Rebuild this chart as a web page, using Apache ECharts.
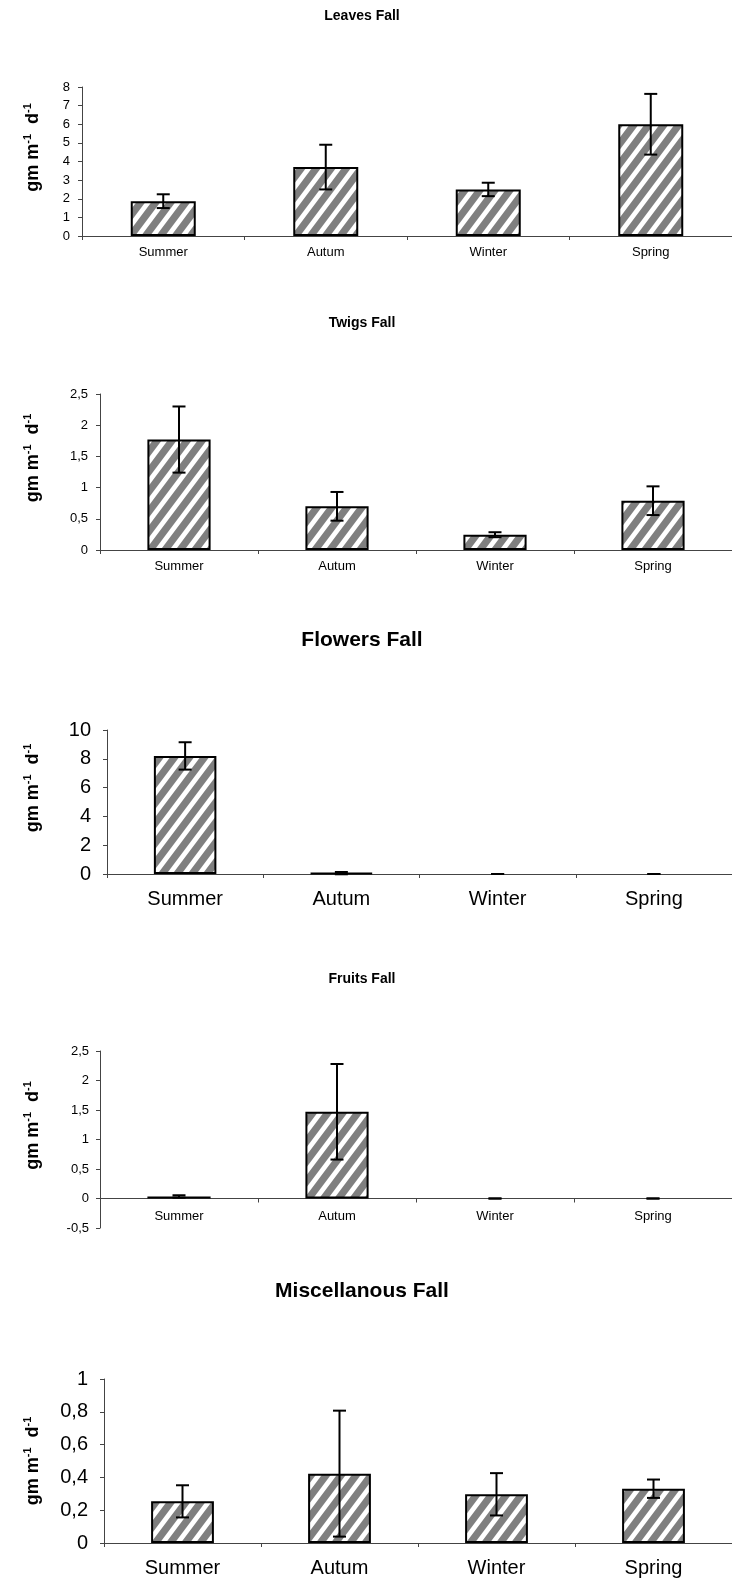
<!DOCTYPE html>
<html>
<head>
<meta charset="utf-8">
<script src="https://cdn.jsdelivr.net/npm/echarts@6/dist/echarts.min.js"></script>
<style>
html,body{margin:0;padding:0;background:#fff;}
#chart{width:732px;height:1582px;}
</style>
</head>
<body>
<div id="chart"></div>
<script>
// ---------- data ----------
const categories = ['Summer', 'Autum', 'Winter', 'Spring'];
const panelTitles = ['Leaves Fall', 'Twigs Fall', 'Flowers Fall', 'Fruits Fall', 'Miscellanous Fall'];

const leavesMean  = [1.87, 3.70, 2.50, 6.00];
const leavesSD    = [0.37, 1.20, 0.36, 1.63];
const twigsMean   = [1.77, 0.70, 0.245, 0.79];
const twigsSD     = [0.53, 0.23, 0.04, 0.23];
const flowersMean = [8.20, 0.06, 0, 0];
const flowersSD   = [0.95, 0.08, 0, 0];
const fruitsMean  = [0.035, 1.47, 0, 0];
const fruitsSD    = [0.02, 0.81, 0, 0];
const miscMean    = [0.254, 0.423, 0.297, 0.331];
const miscSD      = [0.098, 0.384, 0.129, 0.056];

const leavesTicks  = [0, 1, 2, 3, 4, 5, 6, 7, 8];
const twigsTicks   = [0, 0.5, 1, 1.5, 2, 2.5];
const flowersTicks = [0, 2, 4, 6, 8, 10];
const fruitsTicks  = [-0.5, 0, 0.5, 1, 1.5, 2, 2.5];
const miscTicks    = [0, 0.2, 0.4, 0.6, 0.8, 1];

const yAxisTitle = '{b|gm m}{s|-1}{b|  d}{s|-1}';

// ---------- layout (styles, positions) ----------
const panelData = [
  {mean: leavesMean,  sd: leavesSD,  ticks: leavesTicks},
  {mean: twigsMean,   sd: twigsSD,   ticks: twigsTicks},
  {mean: flowersMean, sd: flowersSD, ticks: flowersTicks},
  {mean: fruitsMean,  sd: fruitsSD,  ticks: fruitsTicks},
  {mean: miscMean,    sd: miscSD,    ticks: miscTicks}
];
const layout = [
  {left: 82,  top: 87,   height: 149, titleTop: 9,    titleSize: 14, lab: 13, xMargin: 10, yMargin: 12, nameGap: 40, nameSize: 18},
  {left: 100, top: 394,  height: 156, titleTop: 316,  titleSize: 14, lab: 13, xMargin: 10, yMargin: 12, nameGap: 58, nameSize: 18},
  {left: 107, top: 730,  height: 144, titleTop: 630,  titleSize: 21, lab: 20, xMargin: 15, yMargin: 16, nameGap: 65, nameSize: 18},
  {left: 100, top: 1051, height: 177, titleTop: 972,  titleSize: 14, lab: 13, xMargin: 11, yMargin: 11, nameGap: 58, nameSize: 18},
  {left: 104, top: 1379, height: 164, titleTop: 1281, titleSize: 21, lab: 20, xMargin: 15, yMargin: 16, nameGap: 62, nameSize: 18}
];
const FONT = '"Liberation Sans", Arial, sans-serif';
const AXIS_COLOR = '#444';

// hatch pattern: grey with white upward diagonals (seamless tile)
function makePattern() {
  const a = 15, b = 20;
  const c = document.createElement('canvas');
  c.width = a; c.height = b;
  const ctx = c.getContext('2d');
  ctx.fillStyle = '#7f7f7f';
  ctx.fillRect(0, 0, a, b);
  ctx.strokeStyle = '#ffffff';
  ctx.lineWidth = 4.8;
  ctx.lineCap = 'butt';
  ctx.beginPath();
  for (let k = -2; k <= 2; k++) {
    // line x/a + y/b = k + 1, extended well beyond the tile edges
    ctx.moveTo(k * a - a, 2 * b);
    ctx.lineTo(k * a + 2 * a, -b);
  }
  ctx.stroke();
  return c;
}
const pattern = {image: makePattern(), repeat: 'repeat'};

function fmt(v) {
  return String(+(+v).toFixed(2)).replace('.', ',');
}

const option = {
  animation: false,
  backgroundColor: '#fff',
  title: [],
  grid: [],
  xAxis: [],
  yAxis: [],
  series: []
};

panelData.forEach((p, i) => {
  const L = layout[i];
  const t = p.ticks;
  const yMin = t[0], yMax = t[t.length - 1];
  // x axis (line, ticks and labels) sits on the zero value
  const zeroOffset = yMin < 0 ? -L.height * (0 - yMin) / (yMax - yMin) : 0;
  option.title.push({
    text: panelTitles[i],
    left: 362, top: L.titleTop, textAlign: 'center', padding: 0,
    textStyle: {fontFamily: FONT, fontWeight: 'bold', fontSize: L.titleSize, color: '#000'}
  });
  option.grid.push({left: L.left, top: L.top, right: 0, height: L.height, containLabel: false});
  option.xAxis.push({
    type: 'category', gridIndex: i, data: categories, boundaryGap: true,
    offset: zeroOffset,
    axisLine: {show: true, onZero: false, lineStyle: {color: AXIS_COLOR, width: 1}},
    axisTick: {show: true, length: 4, alignWithLabel: false, lineStyle: {color: AXIS_COLOR}},
    axisLabel: {fontFamily: FONT, fontSize: L.lab, color: '#000', margin: L.xMargin},
    splitLine: {show: false}
  });
  option.yAxis.push({
    type: 'value', gridIndex: i,
    min: yMin, max: yMax, interval: t[1] - t[0],
    axisLine: {show: true, lineStyle: {color: AXIS_COLOR, width: 1}},
    axisTick: {show: true, length: 4, lineStyle: {color: AXIS_COLOR}},
    splitLine: {show: false},
    axisLabel: {fontFamily: FONT, fontSize: L.lab, color: '#000', margin: L.yMargin, formatter: fmt},
    name: yAxisTitle, nameLocation: 'middle', nameGap: L.nameGap, nameRotate: 90,
    nameTextStyle: {
      fontFamily: FONT, fontWeight: 'bold', color: '#000',
      padding: i === 4 ? 0 : [0, 0, 0, 28],
      rich: {
        b: {fontFamily: FONT, fontWeight: 'bold', fontSize: L.nameSize, color: '#000', lineHeight: 20, verticalAlign: 'bottom'},
        s: {fontFamily: FONT, fontWeight: 'bold', fontSize: 11, color: '#000', lineHeight: 20, verticalAlign: 'top'}
      }
    }
  });
  option.series.push({
    type: 'bar', xAxisIndex: i, yAxisIndex: i, barWidth: '40%',
    data: p.mean.map(v => v === 0 ? {value: v, itemStyle: {borderWidth: 0}} : v),
    itemStyle: {color: pattern, borderColor: '#000', borderWidth: 2},
    z: 2
  });
  option.series.push({
    type: 'custom', xAxisIndex: i, yAxisIndex: i, z: 3,
    data: p.mean.map((m, k) => [k, m - p.sd[k], m + p.sd[k]]),
    encode: {x: 0, y: [1, 2]},
    renderItem: function (params, api) {
      const x = api.value(0);
      const hi = api.coord([x, api.value(2)]);
      const lo = api.coord([x, api.value(1)]);
      const hw = 6.5;
      const st = {stroke: '#000', lineWidth: 2};
      return {
        type: 'group',
        children: [
          {type: 'line', shape: {x1: hi[0], y1: hi[1], x2: lo[0], y2: lo[1]}, style: st},
          {type: 'line', shape: {x1: hi[0] - hw, y1: hi[1], x2: hi[0] + hw, y2: hi[1]}, style: st},
          {type: 'line', shape: {x1: lo[0] - hw, y1: lo[1], x2: lo[0] + hw, y2: lo[1]}, style: st}
        ]
      };
    }
  });
});

const chart = echarts.init(document.getElementById('chart'), null, {renderer: 'canvas'});
chart.setOption(option);
</script>
</body>
</html>
